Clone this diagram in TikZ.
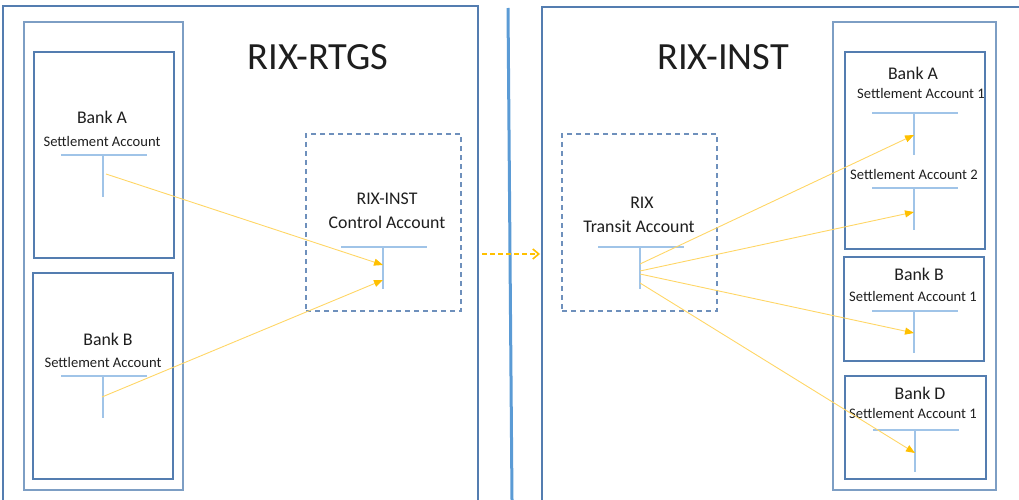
\documentclass[tikz,border=0pt]{standalone}
\usepackage{fontspec}
\setmainfont{Carlito}
\usetikzlibrary{arrows.meta,calc}
\definecolor{boxblue}{RGB}{84,125,176}
\definecolor{contblue}{RGB}{125,158,196}
\definecolor{tblue}{RGB}{160,196,232}
\definecolor{sepblue}{RGB}{91,155,213}
\definecolor{arrline}{RGB}{255,214,102}
\definecolor{arrtip}{RGB}{255,192,0}
\definecolor{txt}{RGB}{30,30,30}
\tikzset{
  box/.style={draw=boxblue, line width=1.3pt, inner sep=0pt, outer sep=0pt},
  cont/.style={draw=contblue, line width=1.6pt, inner sep=0pt, outer sep=0pt},
  dbox/.style={draw=boxblue!85, line width=1.2pt, dash pattern=on 5pt off 4pt, inner sep=0pt, outer sep=0pt},
  tline/.style={draw=tblue, line width=1.1pt},
  flow/.style={draw=arrline, line width=0.9pt, -{Triangle[length=9pt,width=7pt,color=arrtip]}, shorten >=0pt},
  title/.style={font=\fontsize{38.5}{44}\selectfont, inner sep=0pt, text=txt},
  bank/.style={font=\fontsize{17.8}{20}\selectfont, inner sep=0pt, text=txt},
  acct/.style={font=\fontsize{14.6}{17}\selectfont, inner sep=0pt, text=txt},
}
\newcommand{\taccount}[2]{%
  \coordinate (#1) at (#2);
  \draw[tline] ($(#1)+(-42,0)$) -- ($(#1)+(44,0)$);
  \draw[tline] (#1) -- ($(#1)+(0,42)$);
}
\begin{document}
\begin{tikzpicture}[x=1pt,y=-1pt]
\useasboundingbox (0,0) rectangle (1019,500);
\clip (0,0) rectangle (1019,500);
% outer systems
\node[box, minimum width=475, minimum height=509] (outerL) at (240.5,260.5) {};
\node[box, minimum width=488, minimum height=508] (outerR) at (786,261) {};
% left side
\node[cont, minimum width=159, minimum height=468] (contL) at (103.5,256) {};
\node[box, minimum width=140, minimum height=206] (bankA) at (104,155) {};
\node[box, minimum width=140, minimum height=206] (bankB) at (103,376) {};
\node[title] (rtgs) at (318,57) {RIX-RTGS};
\node[bank] (lbA) at (102,117) {Bank A};
\node[acct] (lsA) at (102,141) {Settlement Account};
\node[bank] (lbB) at (108,339) {Bank B};
\node[acct] (lsB) at (103,362) {Settlement Account};
\taccount{tA}{103,155}
\taccount{tB}{103,376}
\node[dbox, minimum width=155, minimum height=177] (ctrl) at (383.5,222.5) {};
\node[bank] (ctrl1) at (387,199) {RIX-INST};
\node[bank] (ctrl2) at (387,222) {Control Account};
\taccount{tC}{383,247}
% separator
\coordinate (sep1) at (508,8);
\coordinate (sep2) at (512,500);
\draw[draw=sepblue, line width=3pt] (sep1) -- (sep2);
% right side
\node[title] (inst) at (723,57) {RIX-INST};
\node[cont, minimum width=163, minimum height=468] (contR) at (914.5,256) {};
\node[box, minimum width=140, minimum height=197] (rA) at (915,150.5) {};
\node[box, minimum width=140, minimum height=104] (rB) at (914,309) {};
\node[box, minimum width=141, minimum height=103] (rD) at (915.5,427.5) {};
\node[bank] (rbA) at (913,73) {Bank A};
\node[acct] (rsA1) at (921,93) {Settlement Account 1};
\node[acct] (rsA2) at (914,174) {Settlement Account 2};
\node[bank] (rbB) at (919,274) {Bank B};
\node[acct] (rsB) at (913,296) {Settlement Account 1};
\node[bank] (rbD) at (920,393) {Bank D};
\node[acct] (rsD) at (913,413) {Settlement Account 1};
\taccount{tRA1}{914,113}
\taccount{tRA2}{914,188}
\taccount{tRB}{914,311}
\taccount{tRD}{915,430}
\node[dbox, minimum width=155, minimum height=177] (transit) at (639.5,222.5) {};
\node[bank] (tr1) at (642,203) {RIX};
\node[bank] (tr2) at (639,226) {Transit Account};
\taccount{tT}{640,247}
% flows left
\draw[flow] ($(tA)+(3,19)$) -- ($(tC)+(0,18)$);
\draw[flow] ($(tB)+(-1,21)$) -- ($(tC)+(0,33)$);
% transfer between systems
\coordinate (x1) at (482,254);
\coordinate (x2) at (540,254);
\draw[draw=arrtip, line width=1.6pt, dash pattern=on 5pt off 3pt, -{Straight Barb[length=6pt,width=10pt]}] (x1) -- (x2);
% flows right
\draw[flow] ($(tT)+(0,17)$) -- ($(tRA1)+(0,22)$);
\draw[flow] ($(tT)+(0,24)$) -- ($(tRA2)+(0,24)$);
\draw[flow] ($(tT)+(0,27)$) -- ($(tRB)+(0,22)$);
\draw[flow] ($(tT)+(0,36)$) -- ($(tRD)+(0,23)$);
\end{tikzpicture}
\end{document}
